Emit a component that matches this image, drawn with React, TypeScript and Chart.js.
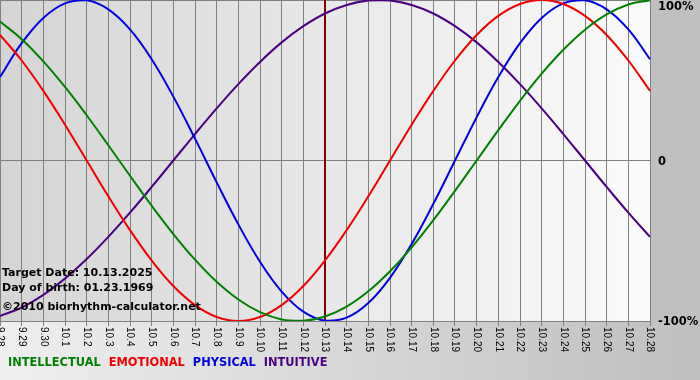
import React, { useEffect, useRef } from "react";
import { Chart, registerables } from "chart.js";

Chart.register(...registerables);

const dayLabels = [
  "9.28", "9.29", "9.30", "10.1", "10.2", "10.3", "10.4", "10.5", "10.6", "10.7",
  "10.8", "10.9", "10.10", "10.11", "10.12", "10.13", "10.14", "10.15", "10.16", "10.17",
  "10.18", "10.19", "10.20", "10.21", "10.22", "10.23", "10.24", "10.25", "10.26", "10.27", "10.28",
];

const intellectual = [
  0.866, 0.756, 0.618, 0.458, 0.282, 0.095, -0.095, -0.282, -0.458, -0.618,
  -0.756, -0.866, -0.945, -0.99, -0.999, -0.972, -0.91, -0.815, -0.69, -0.541,
  -0.372, -0.189, 0, 0.189, 0.372, 0.541, 0.69, 0.815, 0.91, 0.972, 0.999,
];
const emotional = [
  0.782, 0.623, 0.434, 0.223, 0, -0.223, -0.434, -0.623, -0.782, -0.901,
  -0.975, -1.0, -0.975, -0.901, -0.782, -0.623, -0.434, -0.223, 0, 0.223,
  0.434, 0.623, 0.782, 0.901, 0.975, 1.0, 0.975, 0.901, 0.782, 0.623, 0.434,
];
const physical = [
  0.52, 0.731, 0.888, 0.979, 0.998, 0.942, 0.817, 0.631, 0.398, 0.136,
  -0.136, -0.398, -0.631, -0.817, -0.942, -0.998, -0.979, -0.888, -0.731, -0.52,
  -0.27, 0, 0.27, 0.52, 0.731, 0.888, 0.979, 0.998, 0.942, 0.817, 0.631,
];
const intuitive = [
  -0.969, -0.916, -0.837, -0.736, -0.614, -0.476, -0.325, -0.165, 0, 0.165,
  0.325, 0.476, 0.614, 0.736, 0.837, 0.916, 0.969, 0.997, 0.997, 0.969,
  0.916, 0.837, 0.736, 0.614, 0.476, 0.325, 0.165, 0, -0.165, -0.325, -0.476,
];

const seriesNames = ["INTELLECTUAL", "EMOTIONAL", "PHYSICAL", "INTUITIVE"];
const seriesColors = ["#008000", "#f00000", "#0000e0", "#4b0082"];
const yTickValues = [1, 0, -1];
const yTickLabels = ["100%", "0", "-100%"];
const targetDay = "10.13";
const infoLines = [
  "Target Date: 10.13.2025",
  "Day of birth: 01.23.1969",
  "\u00a92010 biorhythm-calculator.net",
];

const decorPlugin = {
  id: "decor",
  beforeDraw(chart: any) {
    const { ctx, width, height, chartArea: a } = chart;
    ctx.save();
    let g = ctx.createLinearGradient(0, 0, width, 0);
    g.addColorStop(0, "#efefef");
    g.addColorStop(1, "#bfbfbf");
    ctx.fillStyle = g;
    ctx.fillRect(0, 0, width, height);
    ctx.fillStyle = "#c0c0c0";
    ctx.fillRect(a.right, 0, width - a.right, a.bottom);
    g = ctx.createLinearGradient(a.left, 0, a.right, 0);
    g.addColorStop(0, "#d5d5d5");
    g.addColorStop(1, "#fbfbfb");
    ctx.fillStyle = g;
    ctx.fillRect(a.left, a.top, a.right - a.left, a.bottom - a.top);
    ctx.restore();
  },
  beforeDatasetsDraw(chart: any) {
    const { ctx, chartArea: a } = chart;
    const x = chart.scales.x.getPixelForValue(dayLabels.indexOf(targetDay));
    ctx.save();
    ctx.strokeStyle = "#800000";
    ctx.lineWidth = 2;
    ctx.beginPath();
    ctx.moveTo(x, a.top);
    ctx.lineTo(x, a.bottom);
    ctx.stroke();
    ctx.restore();
  },
  afterDraw(chart: any) {
    const { ctx, chartArea: a } = chart;
    const xs = chart.scales.x;
    const ys = chart.scales.y;
    ctx.save();
    ctx.fillStyle = "#000";
    ctx.font = "10px 'Liberation Sans'";
    ctx.textAlign = "left";
    ctx.textBaseline = "middle";
    dayLabels.forEach((lab, i) => {
      const x = xs.getPixelForTick(i);
      ctx.save();
      ctx.translate(x, a.bottom + 6);
      ctx.rotate(Math.PI / 2);
      ctx.fillText(lab, 0, 0);
      ctx.restore();
    });
    ctx.font = "bold 11.5px 'DejaVu Sans'";
    ctx.textBaseline = "middle";
    yTickValues.forEach((v, i) => {
      const y = Math.max(ys.getPixelForValue(v) + 1.5, 7);
      ctx.fillText(yTickLabels[i], a.right + 8, y);
    });
    ctx.font = "bold 11px 'DejaVu Sans'";
    ctx.textBaseline = "alphabetic";
    const infoY = [276, 291, 310];
    infoLines.forEach((t, i) => ctx.fillText(t, 2, infoY[i]));
    ctx.font = "bold 11.4px 'DejaVu Sans'";
    let lx = 8;
    seriesNames.forEach((n, i) => {
      ctx.fillStyle = seriesColors[i];
      ctx.fillText(n, lx, 366);
      lx += ctx.measureText(n).width + 8;
    });
    ctx.restore();
  },
};

export default function App() {
  const ref = useRef<HTMLCanvasElement | null>(null);
  useEffect(() => {
    if (!ref.current) return;
    const series = [intellectual, emotional, physical, intuitive];
    const chart = new Chart(ref.current, {
      type: "line",
      data: {
        labels: dayLabels,
        datasets: series.map((d, i) => ({
          label: seriesNames[i],
          data: d,
          borderColor: seriesColors[i],
          backgroundColor: seriesColors[i],
          borderWidth: 2,
          pointRadius: 0,
          tension: 0.4,
          fill: false,
        })),
      },
      options: {
        animation: false,
        responsive: false,
        devicePixelRatio: 1,
        layout: { padding: { left: 0, top: 0, right: 50, bottom: 54 } },
        plugins: { legend: { display: false }, tooltip: { enabled: false } },
        scales: {
          x: {
            type: "category",
            offset: false,
            grid: { color: "#808080", lineWidth: 1, drawTicks: true, tickLength: 5 },
            border: { display: true, color: "#808080" },
            ticks: { display: false, autoSkip: false },
          },
          y: {
            position: "right",
            min: -1,
            max: 1,
            grid: { color: "#808080", lineWidth: 1, drawTicks: false },
            border: { display: false },
            ticks: { display: false, stepSize: 1 },
          },
        },
      },
      plugins: [decorPlugin],
    });
    return () => chart.destroy();
  }, []);
  return (
    <div style={{ position: "fixed", left: 0, top: 0, width: 700, height: 380 }}>
      <canvas ref={ref} width={700} height={380} style={{ display: "block" }} />
    </div>
  );
}
